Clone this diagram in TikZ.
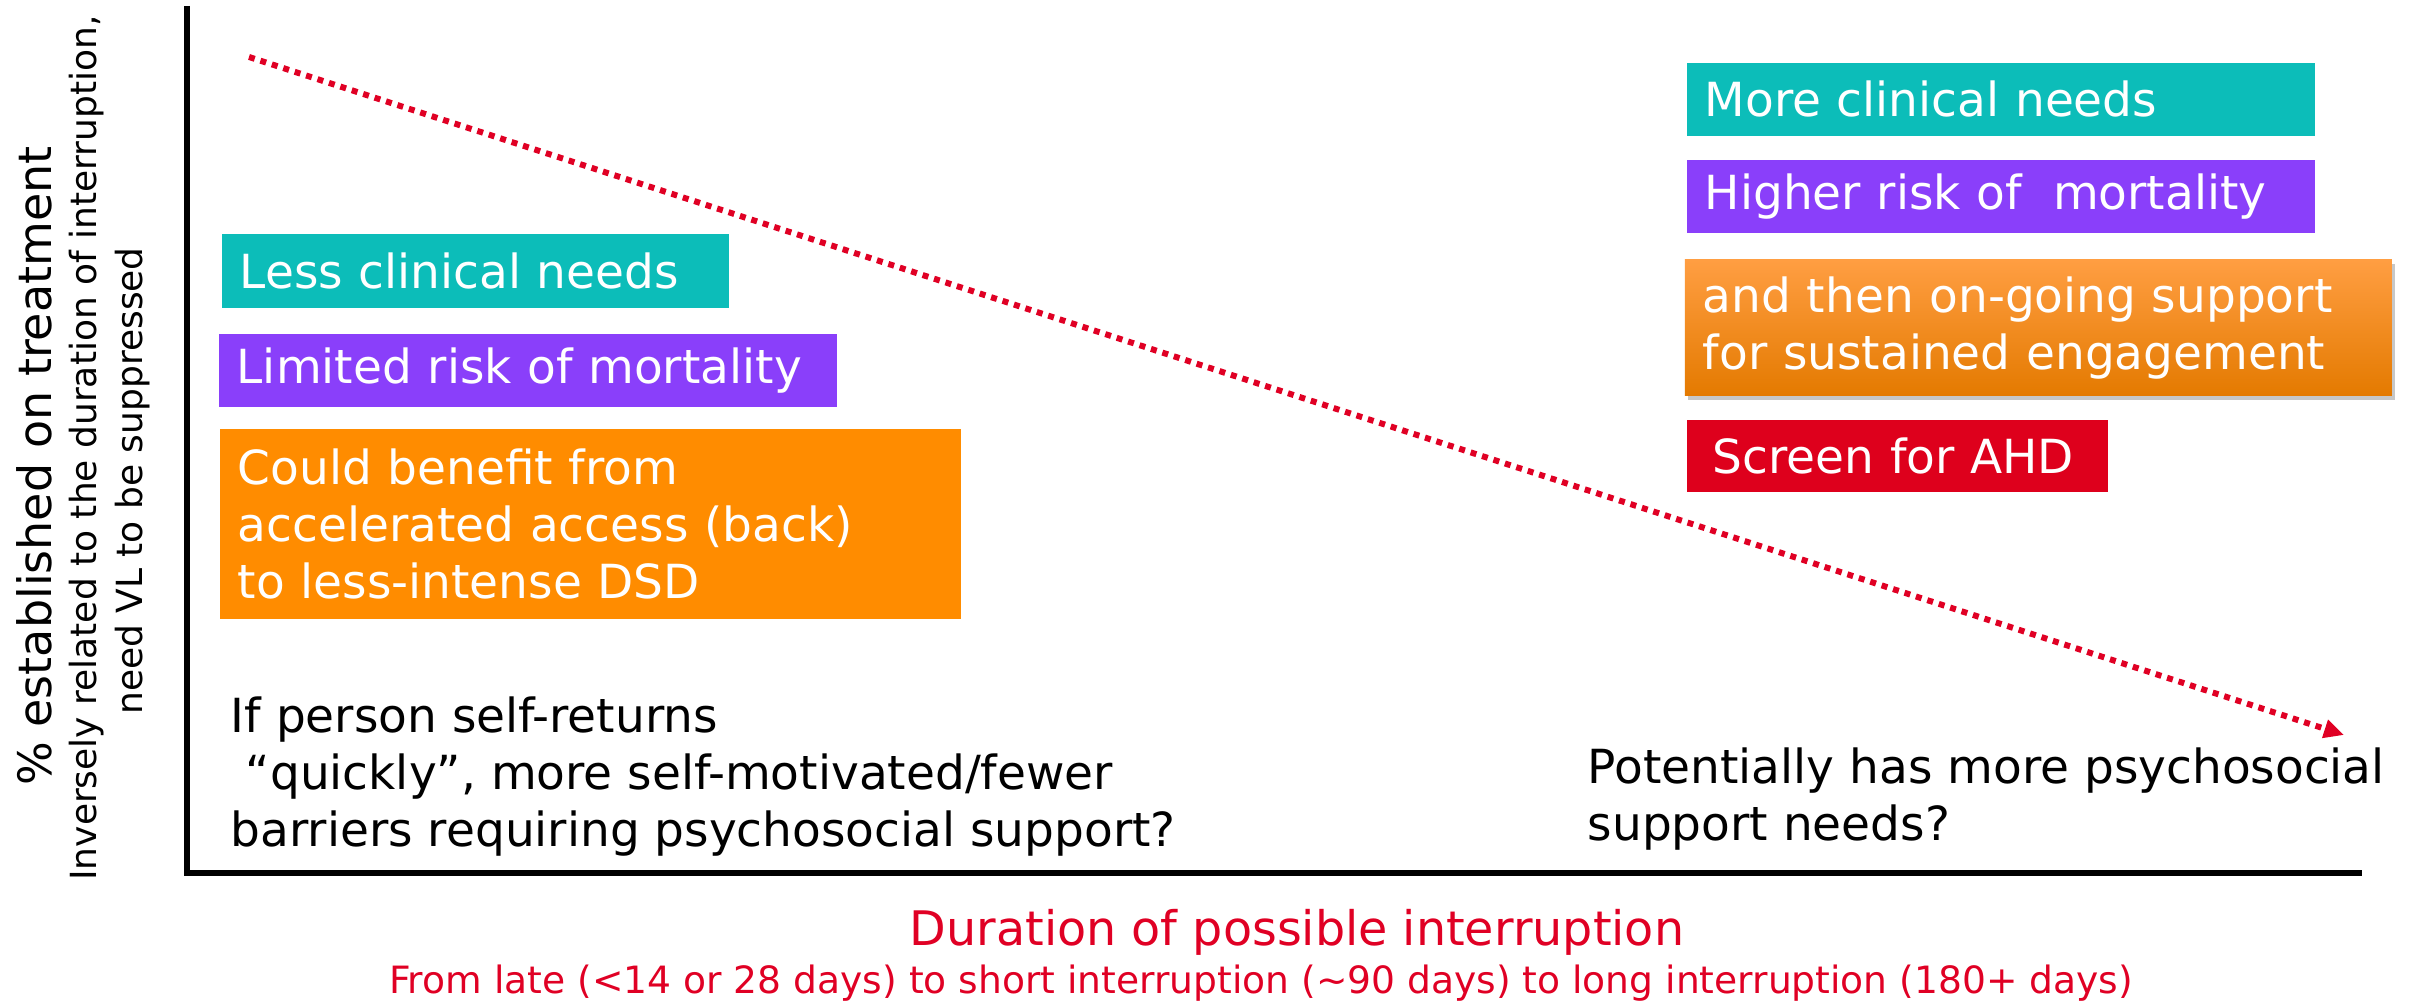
\documentclass[tikz,border=0pt]{standalone}
\usepackage{fontspec}
\setmainfont{DejaVu Sans}
\usetikzlibrary{arrows.meta,shadows}
\definecolor{cteal}{RGB}{12,189,185}
\definecolor{cpurple}{RGB}{138,63,250}
\definecolor{corange}{RGB}{255,140,0}
\definecolor{corangetop}{RGB}{255,158,66}
\definecolor{corangebot}{RGB}{228,122,0}
\definecolor{cred}{RGB}{222,0,28}
\definecolor{ctxtred}{RGB}{224,0,36}
\begin{document}
\begin{tikzpicture}[x=0.25pt,y=-0.25pt,
  boxfont/.style={font=\fontsize{11.75}{14.25}\selectfont},
  box/.style={boxfont, anchor=north west, inner xsep=4.5pt, inner ysep=0pt,
    align=left, text=white},
  plain/.style={boxfont, align=left, text=black, inner sep=0pt},
  axis/.style={line width=1.5pt, line join=miter},
  trend/.style={draw=ctxtred, line width=1.5pt, dash pattern=on 1.5pt off 1.5pt,
    -{Triangle[length=5pt,width=4.5pt]}}
]
\fill[white] (0,0) rectangle (2420,1003);
\useasboundingbox (0,0) rectangle (2420,1003);

% axes
\coordinate (ytop) at (187,6);
\coordinate (origin) at (187,873);
\coordinate (xend) at (2362,873);
\draw[axis] (ytop) -- (origin) -- (xend);

% trend line
\coordinate (trendS) at (249,57);
\coordinate (trendE) at (2344,735);
\draw[trend] (trendS) -- (trendE);

% left boxes
\node[box, fill=cteal, text width=117.75pt, minimum height=18.5pt] (lessclin) at (221,233)
  {Less clinical needs};
\node[box, fill=cpurple, text width=145.5pt, minimum height=18.25pt] (limrisk) at (218,333)
  {Limited risk of mortality};
\node[box, fill=corange, text width=176.25pt, minimum height=47.5pt] (benefit) at (219,428)
  {Could benefit from\\accelerated access (back)\\to less-intense DSD};

% right boxes
\node[box, fill=cteal, text width=148pt, minimum height=18.25pt] (moreclin) at (1686,62)
  {More clinical needs};
\node[box, fill=cpurple, text width=148pt, minimum height=18.25pt] (highrisk) at (1686,159)
  {Higher risk of\ \ mortality};
\node[box, top color=corangetop, middle color=corange, bottom color=corangebot,
  drop shadow={shadow xshift=0.9pt, shadow yshift=-1pt, fill=black, opacity=0.22},
  text width=167.75pt, minimum height=34pt] (ongoing) at (1684,259)
  {and then on-going support\\for sustained engagement};
\node[box, fill=cred, inner xsep=6.5pt, text width=92.25pt, minimum height=18pt] (ahd) at (1686,419)
  {Screen for AHD};

% bottom texts
\node[plain, anchor=west] (selfret) at (230,777)
  {If person self-returns\\\hspace*{0.32em}“quickly”, more self-motivated/fewer\\barriers requiring psychosocial support?};
\node[plain, anchor=west] (psycho) at (1587,799)
  {Potentially has more psychosocial\\support needs?};

% axis labels
\node[rotate=90, font=\fontsize{11.5}{13}\selectfont, inner sep=0pt] (ylab) at (34,466)
  {\% established on treatment};
\node[rotate=90, font=\fontsize{9}{11}\selectfont, inner sep=0pt] (ysub1) at (87,448)
  {Inversely related to the duration of interruption,};
\node[rotate=90, font=\fontsize{9}{11}\selectfont, inner sep=0pt] (ysub2) at (133,481)
  {need VL to be suppressed};
\node[font=\fontsize{11.9}{14}\selectfont, text=ctxtred, inner sep=0pt] (xlab) at (1297,932)
  {Duration of possible interruption};
\node[font=\fontsize{9.4}{11}\selectfont, text=ctxtred, inner sep=0pt] (xsub) at (1261,983)
  {From late (<14 or 28 days) to short interruption (\textasciitilde 90 days) to long interruption (180+ days)};
\end{tikzpicture}
\end{document}
